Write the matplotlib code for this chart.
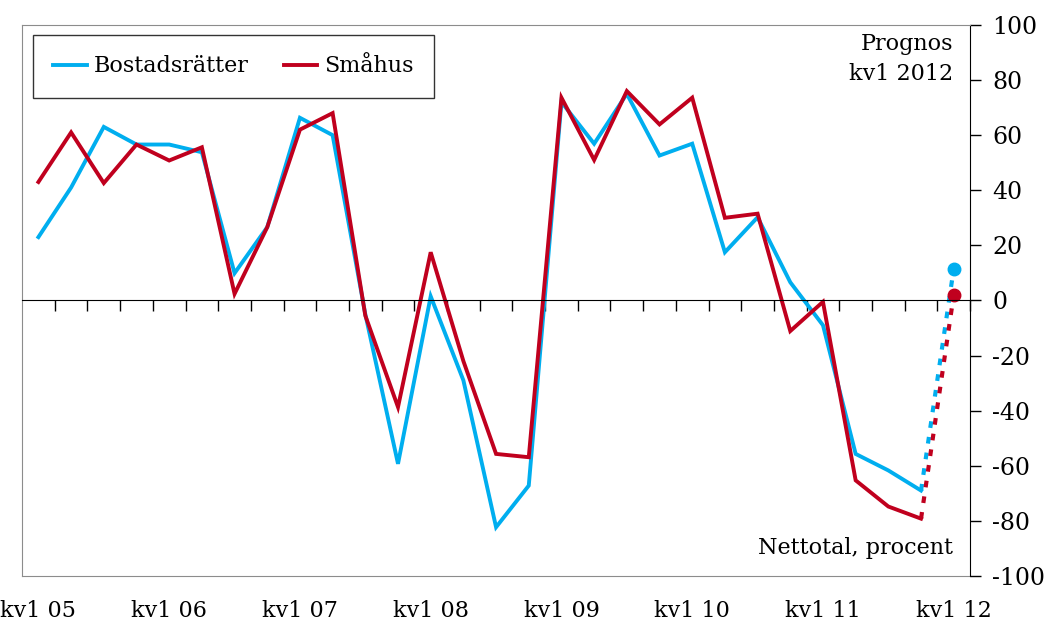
import numpy as np
import matplotlib.pyplot as plt
from matplotlib.ticker import FixedLocator, NullFormatter

plt.rcParams['font.family'] = ['DejaVu Serif']

# Quarterly data kv1 2005 .. kv4 2011, forecast for kv1 2012
bostadsratter = [23, 41, 63, 56.6, 56.6, 53.8, 9.9, 26.6, 66.3, 60,
                 -5, -59.3, 1.5, -29, -82.3, -67.2, 72, 56.9, 75, 52.6,
                 56.9, 17.5, 30.2, 6.6, -9, -55.7, -61.7, -69]
smahus = [43, 61, 42.6, 56.6, 50.8, 55.6, 2.4, 26.6, 62, 68,
          -5.5, -38.7, 17.5, -22, -55.7, -56.9, 73.6, 51, 76, 63.9,
          73.6, 30, 31.5, -11.1, -0.5, -65.3, -74.8, -79.2]
prognos_br = 11.5
prognos_sm = 2
xlabels = ["kv1 05", "kv1 06", "kv1 07", "kv1 08", "kv1 09", "kv1 10", "kv1 11", "kv1 12"]

blue = '#00AEEF'
red = '#C0001E'
gray = '#8c8c8c'
fs = 16

n = len(bostadsratter) + 1
x = np.arange(len(bostadsratter))

fig = plt.figure(figsize=(10.51, 6.24), dpi=100)
ax = fig.add_axes([0.021, 0.077, 0.902, 0.883])

ax.plot(x, bostadsratter, color=blue, lw=2.8, label='Bostadsrätter', solid_joinstyle='miter')
ax.plot(x, smahus, color=red, lw=2.8, label='Småhus', solid_joinstyle='miter')

# forecast, dotted to the prognos point
ax.plot([x[-1], n - 1], [bostadsratter[-1], prognos_br], color=blue, lw=3,
        linestyle=(0, (1.6, 2.2)), dash_capstyle='butt')
ax.plot([x[-1], n - 1], [smahus[-1], prognos_sm], color=red, lw=3,
        linestyle=(0, (1.6, 2.2)), dash_capstyle='butt')
ax.plot([n - 1], [prognos_br], 'o', color=blue, ms=9)
ax.plot([n - 1], [prognos_sm], 'o', color=red, ms=9)

ax.set_xlim(-0.5, n - 0.5)
ax.set_ylim(-100, 100)

# y axis on the right
ax.yaxis.tick_right()
ax.set_yticks(np.arange(-100, 101, 20))
ax.set_yticklabels([str(v) for v in range(-100, 101, 20)])
ax.tick_params(axis='y', direction='out', length=8, width=1, labelsize=fs + 1, pad=8, color='black')
ax.spines['right'].set_color('black')
ax.spines['left'].set_color(gray)
ax.spines['top'].set_color(gray)

# zero line with quarter ticks
ax.spines['bottom'].set_position(('data', 0))
ax.spines['bottom'].set_color('black')
ax.xaxis.set_major_locator(FixedLocator([]))
ax.xaxis.set_minor_locator(FixedLocator(np.arange(0.5, n, 1)))
ax.xaxis.set_minor_formatter(NullFormatter())
ax.tick_params(axis='x', which='minor', direction='out', length=8, width=1, color='black')

# year labels along the bottom frame
sec = ax.secondary_xaxis('bottom')
sec.set_xticks(np.arange(0, n, 4))
sec.set_xticklabels(xlabels)
sec.tick_params(axis='x', length=0, labelsize=fs, pad=17)
sec.spines['bottom'].set_color(gray)

leg = ax.legend(loc='upper left', ncol=2, fontsize=fs, frameon=True, fancybox=False,
                edgecolor='black', handlelength=1.5, columnspacing=1.6,
                borderpad=0.92, bbox_to_anchor=(0.0115, 0.982), handletextpad=0.3,
                borderaxespad=0)
leg.get_frame().set_linewidth(1)

ax.text(0.982, 0.985, "Prognos\nkv1 2012", transform=ax.transAxes, ha='right', va='top',
        fontsize=fs, linespacing=1.45)
ax.text(0.982, 0.05, "Nettotal, procent", transform=ax.transAxes, ha='right', va='center',
        fontsize=fs)

fig.savefig('out.png', dpi=100)
